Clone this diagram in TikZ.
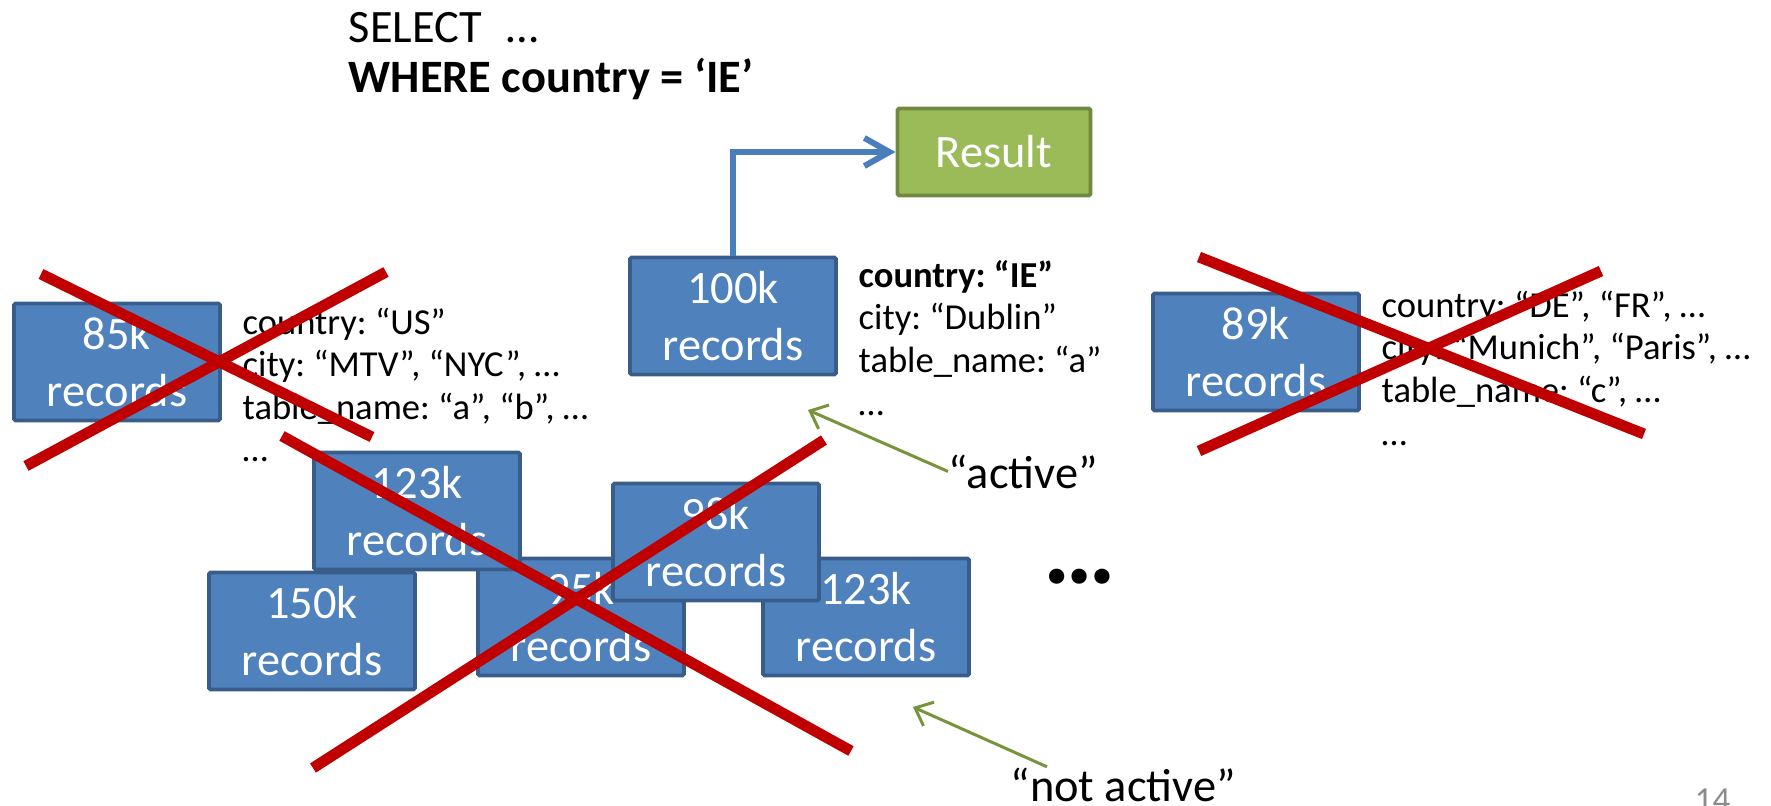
\documentclass[tikz,border=0pt]{standalone}
\usepackage{fontspec}
\setmainfont{Carlito}
\usetikzlibrary{arrows.meta}
\frenchspacing

\definecolor{boxblue}{HTML}{4F81BD}
\definecolor{boxedge}{HTML}{385D8A}
\definecolor{resgreen}{HTML}{9BBB59}
\definecolor{resedge}{HTML}{71893F}
\definecolor{xred}{HTML}{C00000}
\definecolor{linkblue}{HTML}{4A7EBB}
\definecolor{pointgreen}{HTML}{77933C}

\begin{document}
\begin{tikzpicture}[x=0.01cm, y=-0.01cm,
  recbox/.style={draw=boxedge, fill=boxblue, line width=1.1pt, text=white,
    minimum width=2.06cm, minimum height=1.17cm, align=center, inner sep=0pt,
    rounded corners=0.5pt, font=\fontsize{13.2}{16.2}\selectfont},
  resbox/.style={draw=resedge, fill=resgreen, line width=1.1pt, text=white,
    minimum width=1.93cm, minimum height=0.87cm, inner sep=0pt,
    rounded corners=0.5pt, font=\fontsize{13.2}{16.2}\selectfont},
  attrs/.style={anchor=base west, align=left, inner sep=0pt,
    font=\fontsize{10.4}{12.1}\selectfont},
  label/.style={anchor=base west, inner sep=0pt,
    font=\fontsize{13.2}{16.2}\selectfont},
  cross/.style={draw=xred, line width=3.1pt},
  feed/.style={draw=linkblue, line width=1.7pt,
    -{Straight Barb[length=2.5mm,width=2.8mm]}},
  pointer/.style={draw=pointgreen, line width=0.85pt,
    -{Straight Barb[length=1.5mm,width=2.6mm]}}]
\useasboundingbox (0,0) rectangle (1771,806);

% query (base = last line)
\node[attrs, font=\fontsize{13.2}{14.5}\selectfont] (query) at (348,93)
  {SELECT\hspace{4pt} …\\ \textbf{WHERE country = ‘IE’}};

% partitions
\node[resbox] (result) at (994,152) {Result};
\node[recbox] (b100) at (733,316) {100k\\records};
\node[recbox] (b85) at (117,362) {85k\\records};
\node[recbox] (b89) at (1256,352) {89k\\records};
\node[recbox] (b150) at (312,631) {150k\\records};
\node[recbox] (b95) at (581,617) {95k\\records};
\node[recbox] (b123b) at (866,617) {123k\\records};
\node[recbox] (b123a) at (417,511) {123k\\records};
\node[recbox] (b98) at (716,542) {98k\\records};

% min/max metadata
\node[attrs] (info100) at (858,415)
  {\textbf{country: “IE”}\\city: “Dublin”\\table\_name: “a”\\…};
\node[attrs] (info85) at (242,462)
  {country: “US”\\city: “MTV”, “NYC”, …\\table\_name: “a”, “b”, …\\…};
\node[attrs] (info89) at (1381,445)
  {country: “DE”, “FR”, …\\city: “Munich”, “Paris”, …\\table\_name: “c”, …\\…};

\node[anchor=base, inner sep=0pt, font=\fontsize{29}{29}\selectfont\bfseries]
  (more) at (1080,583) {…};

% pruned
\draw[cross] (41,274) -- (372,437);
\draw[cross] (386,272) -- (26,466);
\draw[cross] (1199,257) -- (1644,434);
\draw[cross] (1601,271) -- (1199,451);
\draw[cross] (282,436) -- (851,751);
\draw[cross] (824,440) -- (313,768);

\draw[feed] (b100.north) |- (result.west);

\node[label] (active) at (948,488) {“active”};
\node[label] (notactive) at (1010,801) {“not active”};
\coordinate (activetip) at (808,410);
\coordinate (notactivetip) at (913,707);
\draw[pointer] (active.west) -- (activetip);
\draw[pointer] ([xshift=0.37cm]notactive.north west) -- (notactivetip);

\node[anchor=base west, inner sep=0pt, text=black!45,
  font=\fontsize{10}{12}\selectfont] (pagenum) at (1694,811) {14};
\end{tikzpicture}
\end{document}
